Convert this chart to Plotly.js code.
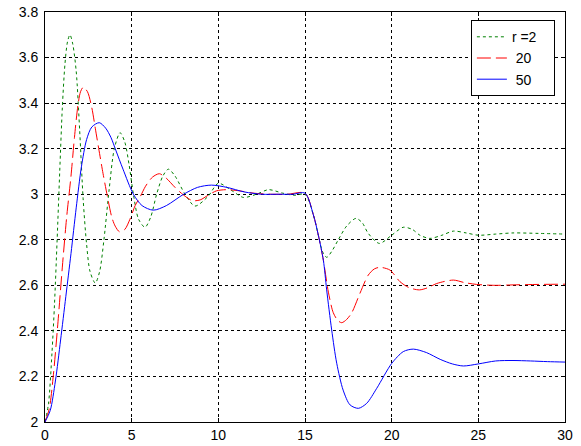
<!DOCTYPE html>
<html>
<head>
<meta charset="utf-8">
<script src="https://cdn.plot.ly/plotly-3.0.1.min.js"></script>
<style>html,body{margin:0;padding:0;background:#fff;}#chart{width:581px;height:446px;}</style>
</head>
<body>
<div id="chart"></div>
<script>
// Series names (legend)
var seriesNames = ['r =2\u00a0\u00a0\u00a0', '\u00a020', '\u00a050'];

// r = 2 (green, dotted)
var tGreen = [0, 0.2, 0.4, 0.55, 0.7, 0.85, 1.0, 1.15, 1.3, 1.44, 1.6, 1.8, 2.0, 2.2, 2.4, 2.6, 2.9, 3.15, 3.4, 3.7, 4.0, 4.33, 4.6, 4.85, 5.1, 5.4, 5.77, 6.1, 6.44, 6.8, 7.12, 7.5, 8.08, 8.65, 9.4, 10.0, 10.7, 11.44, 12.2, 12.9, 13.7, 14.4, 15.0, 15.48, 15.77, 16.0, 16.25, 16.55, 16.92, 17.4, 17.94, 18.3, 18.65, 19.29, 20.0, 20.67, 21.2, 21.63, 22.2, 22.9, 23.56, 24.3, 25.0, 26.0, 27.0, 28.5, 30];
var vGreen = [2, 2.08, 2.3, 2.52, 2.8, 3.1, 3.38, 3.57, 3.67, 3.70, 3.66, 3.54, 3.28, 2.98, 2.78, 2.66, 2.61, 2.66, 2.8, 3.02, 3.2, 3.27, 3.23, 3.13, 3.0, 2.89, 2.855, 2.9, 3.0, 3.08, 3.11, 3.08, 3.0, 2.948, 2.99, 3.048, 3.02, 2.986, 3.0, 3.02, 3.005, 2.995, 3.0, 2.91, 2.82, 2.75, 2.723, 2.75, 2.8, 2.86, 2.894, 2.875, 2.828, 2.784, 2.82, 2.855, 2.845, 2.82, 2.806, 2.82, 2.838, 2.83, 2.82, 2.825, 2.83, 2.828, 2.825];

// r = 20 (red, dashed)
var tRed = [0, 0.25, 0.5, 0.75, 1.0, 1.25, 1.5, 1.7, 1.9, 2.05, 2.21, 2.45, 2.7, 2.9, 3.1, 3.35, 3.6, 3.85, 4.05, 4.3, 4.6, 4.9, 5.2, 5.5, 5.8, 6.2, 6.6, 7.0, 7.5, 8.0, 8.5, 8.95, 9.4, 9.9, 10.5, 11.2, 12.0, 13.0, 14.0, 15.0, 15.48, 15.77, 16.06, 16.35, 16.63, 16.9, 17.12, 17.4, 17.7, 18.17, 18.65, 19.0, 19.33, 19.9, 20.48, 21.0, 21.6, 22.1, 22.6, 23.56, 24.2, 24.9, 26.0, 27.0, 28.5, 30];
var vRed = [2, 2.06, 2.22, 2.44, 2.68, 2.9, 3.08, 3.25, 3.39, 3.45, 3.47, 3.45, 3.38, 3.29, 3.2, 3.09, 2.99, 2.9, 2.86, 2.835, 2.845, 2.89, 2.95, 2.99, 3.035, 3.075, 3.09, 3.07, 3.03, 2.996, 2.972, 2.975, 2.995, 3.015, 3.02, 3.015, 3.005, 3.0, 3.0, 3.005, 2.91, 2.82, 2.71, 2.57, 2.48, 2.445, 2.436, 2.45, 2.48, 2.565, 2.645, 2.672, 2.679, 2.667, 2.616, 2.59, 2.58, 2.59, 2.608, 2.623, 2.612, 2.604, 2.6, 2.602, 2.604, 2.605];

// r = 50 (blue, solid)
var tBlue = [0, 0.3, 0.6, 0.9, 1.2, 1.5, 1.8, 2.1, 2.4, 2.7, 3.13, 3.5, 3.8, 4.1, 4.5, 5.1, 5.6, 6.25, 7.0, 8.0, 8.8, 9.6, 10.5, 11.5, 12.5, 13.5, 14.3, 15.0, 15.48, 15.77, 16.06, 16.25, 16.54, 16.83, 17.2, 17.6, 18.08, 18.56, 19.14, 20.0, 20.67, 21.25, 22.0, 22.8, 23.5, 24.14, 25.0, 26.0, 27.0, 28.0, 29.0, 30];
var vBlue = [2, 2.05, 2.18, 2.36, 2.55, 2.74, 2.94, 3.12, 3.24, 3.295, 3.314, 3.29, 3.25, 3.19, 3.11, 3.0, 2.95, 2.93, 2.95, 3.0, 3.03, 3.04, 3.03, 3.01, 3.0, 3.0, 3.0, 3.005, 2.91, 2.82, 2.71, 2.58, 2.404, 2.258, 2.14, 2.075, 2.06, 2.082, 2.148, 2.257, 2.309, 2.32, 2.305, 2.275, 2.255, 2.246, 2.255, 2.268, 2.27, 2.268, 2.265, 2.263];

// Axis ticks
var xTicks = [0, 5, 10, 15, 20, 25, 30];
var xTickText = ['0', '5', '10', '15', '20', '25', '30'];
var yTicks = [2, 2.2, 2.4, 2.6, 2.8, 3, 3.2, 3.4, 3.6, 3.8];
var yTickText = ['2', '2.2', '2.4', '2.6', '2.8', '3', '3.2', '3.4', '3.6', '3.8'];

var font = 'Liberation Sans, Arial, sans-serif';

var traces = [
  {x: tGreen, y: vGreen, name: seriesNames[0], mode: 'lines',
   line: {color: '#008000', width: 1, dash: '3px,3px', shape: 'spline', smoothing: 0.8}},
  {x: tRed, y: vRed, name: seriesNames[1], mode: 'lines',
   line: {color: '#ff0000', width: 1, dash: '14px,5px', shape: 'spline', smoothing: 0.8}},
  {x: tBlue, y: vBlue, name: seriesNames[2], mode: 'lines',
   line: {color: '#0000ff', width: 1, shape: 'spline', smoothing: 0.8}}
];

var axisCommon = {
  showline: true, linecolor: '#000', linewidth: 1, mirror: 'ticks',
  ticks: 'inside', ticklen: 4, tickcolor: '#000', tickwidth: 1,
  showgrid: true, gridcolor: '#000', gridwidth: 1, griddash: '3px,3px',
  zeroline: false, tickfont: {family: font, size: 14, color: '#000'}
};

var layout = {
  width: 581, height: 446,
  margin: {l: 45, r: 16, t: 12, b: 24},
  paper_bgcolor: '#fff', plot_bgcolor: '#fff',
  showlegend: true,
  legend: {x: 0.819, y: 0.98, xanchor: 'left', yanchor: 'top',
           bgcolor: '#fff', bordercolor: '#000', borderwidth: 1,
           font: {family: font, size: 14, color: '#000'}},
  xaxis: Object.assign({}, axisCommon, {range: [0, 30], tickvals: xTicks, ticktext: xTickText}),
  yaxis: Object.assign({}, axisCommon, {range: [2, 3.8], tickvals: yTicks, ticktext: yTickText, ticklabelstandoff: 3})
};

Plotly.newPlot('chart', traces, layout, {staticPlot: true, displayModeBar: false});
</script>
</body>
</html>
